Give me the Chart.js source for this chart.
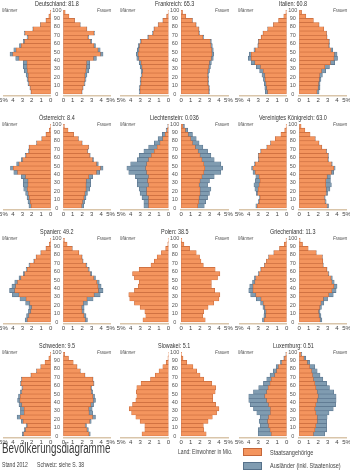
<!DOCTYPE html>
<html>
<head>
<meta charset="utf-8">
<script src="https://cdn.jsdelivr.net/npm/chart.js@4.4.1/dist/chart.umd.min.js"></script>
<style>
  body { margin: 0; width: 350px; height: 471px; position: relative; overflow: hidden; background: #fff;
         font-family: "Liberation Sans", Arial, sans-serif; color: #333; }
  canvas { position: absolute; }
  .lbl { position: absolute; white-space: nowrap; line-height: 1; transform-origin: 0 50%; }
  .title { font-size: 8px; color: #333; }
  .sex { font-size: 6px; font-style: italic; color: #555; }
  .box { position: absolute; width: 19px; height: 8px; box-sizing: border-box; }
</style>
</head>
<body>
<script>
// age groups (start of each 5-year class) and axis ticks
const ageStart = [0, 5, 10, 15, 20, 25, 30, 35, 40, 45, 50, 55, 60, 65, 70, 75, 80, 85, 90, 95];
const ageTicks = [0, 10, 20, 30, 40, 50, 60, 70, 80, 90, 100];
const pctTicks = [0, 1, 2, 3, 4, 5];

const countryNames = ['Deutschland', 'Frankreich', 'Italien', 'Österreich', 'Liechtenstein', 'Vereinigtes Königreich',
                      'Spanien', 'Polen', 'Griechenland', 'Schweden', 'Slowakei', 'Luxemburg'];
const inhabitants = ['81.8', '65.3', '60.8', '8.4', '0.036', '63.0', '49.2', '38.5', '11.3', '9.5', '5.1', '0.51'];

// share of total population in %, per 5-year class (0-4 ... 95-99)
const deMenCit = [2.05,2.13,2.3,2.35,2.35,2.45,2.5,2.5,3.35,4.0,3.65,3.1,2.75,2.38,2.72,1.85,1.07,0.49,0.2,0.05];
const deMenFor = [0.05,0.07,0.1,0.15,0.25,0.35,0.4,0.4,0.35,0.3,0.25,0.2,0.15,0.12,0.08,0.05,0.03,0.01,0,0];
const deWomenCit = [1.95,2.03,2.2,2.27,2.27,2.38,2.43,2.45,3.18,3.92,3.66,3.22,2.86,2.6,3.23,2.46,1.77,1.19,0.6,0.2];
const deWomenFor = [0.05,0.07,0.1,0.13,0.23,0.32,0.37,0.35,0.32,0.28,0.24,0.18,0.14,0.1,0.07,0.04,0.03,0.01,0,0];

const frMenCit = [3.0,3.0,2.9,2.9,2.78,2.72,2.8,2.88,3.13,3.2,3.12,3.05,2.88,2.1,1.62,1.49,1.06,0.58,0.2,0.04];
const frMenFor = [0.1,0.1,0.1,0.1,0.12,0.18,0.2,0.22,0.22,0.2,0.18,0.15,0.12,0.1,0.08,0.06,0.04,0.02,0,0];
const frWomenCit = [2.9,2.9,2.8,2.8,2.78,2.82,2.9,2.98,3.18,3.25,3.22,3.15,3.08,2.3,1.87,1.84,1.56,1.18,0.49,0.15];
const frWomenFor = [0.1,0.1,0.1,0.1,0.12,0.18,0.2,0.22,0.22,0.2,0.18,0.15,0.12,0.1,0.08,0.06,0.04,0.02,0.01,0];

const itMenCit = [2.0,2.1,2.17,2.25,2.3,2.45,2.75,3.35,3.73,3.73,3.3,2.97,2.95,2.67,2.48,1.99,1.39,0.85,0.3,0.08];
const itMenFor = [0.25,0.2,0.18,0.2,0.3,0.4,0.45,0.4,0.32,0.22,0.15,0.08,0.05,0.03,0.02,0.01,0.01,0,0,0];
const itWomenCit = [1.87,2.0,2.03,2.12,2.15,2.35,2.7,3.3,3.67,3.7,3.35,3.1,3.15,2.92,2.88,2.59,2.09,1.5,0.7,0.25];
const itWomenFor = [0.23,0.2,0.17,0.18,0.3,0.45,0.5,0.45,0.38,0.3,0.2,0.1,0.05,0.03,0.02,0.01,0.01,0,0,0];

const atMenCit = [2.05,2.15,2.25,2.35,2.45,2.4,2.4,2.65,3.5,3.95,3.35,2.95,2.6,2.28,2.26,1.47,0.93,0.49,0.15,0.03];
const atMenFor = [0.25,0.25,0.25,0.3,0.4,0.5,0.5,0.45,0.4,0.3,0.25,0.15,0.1,0.07,0.04,0.03,0.02,0.01,0,0];
const atWomenCit = [1.92,2.02,2.17,2.27,2.4,2.4,2.42,2.68,3.5,3.92,3.5,3.07,2.77,2.54,2.66,1.97,1.58,1.09,0.5,0.12];
const atWomenFor = [0.23,0.23,0.23,0.28,0.4,0.5,0.48,0.42,0.35,0.28,0.2,0.13,0.08,0.06,0.04,0.03,0.02,0.01,0,0];

const liMenCit = [2.1,2.1,2.1,2.3,2.3,2.1,2.2,2.1,2.3,2.4,2.3,2.1,1.8,1.5,1.2,0.9,0.6,0.35,0.15,0.05];
const liMenFor = [0.5,0.5,0.7,0.7,0.8,1.2,1.1,1.4,1.9,2.0,1.7,1.2,1.3,1.1,0.9,0.6,0.5,0.3,0.1,0.03];
const liWomenCit = [1.75,1.85,1.9,2.0,2.0,1.9,2.0,2.2,2.4,2.5,2.4,2.2,2.0,1.8,1.5,1.2,1.0,0.75,0.45,0.2];
const liWomenFor = [0.7,0.75,0.9,1.0,1.15,0.9,1.0,1.3,1.8,1.9,1.8,1.3,1.15,1.0,0.8,0.7,0.6,0.45,0.25,0.15];

const ukMenCit = [3.1,2.88,2.8,3.05,3.0,2.9,2.8,2.9,3.3,3.55,3.3,2.93,2.95,2.71,2.07,1.68,1.19,0.6,0.2,0.05];
const ukMenFor = [0.15,0.12,0.1,0.15,0.35,0.55,0.5,0.35,0.25,0.15,0.1,0.07,0.05,0.04,0.03,0.02,0.01,0,0,0];
const ukWomenCit = [2.95,2.73,2.65,2.85,2.85,2.8,2.8,2.95,3.4,3.65,3.4,3.03,3.05,2.86,2.37,2.08,1.69,1.15,0.6,0.2];
const ukWomenFor = [0.15,0.12,0.1,0.15,0.4,0.6,0.5,0.35,0.25,0.15,0.1,0.07,0.05,0.04,0.03,0.02,0.01,0,0,0];

const esMenCit = [2.45,2.3,2.1,2.0,2.2,2.6,3.35,3.8,3.7,3.5,3.15,2.75,2.48,2.2,1.73,1.51,1.03,0.49,0.15,0.03];
const esMenFor = [0.25,0.25,0.25,0.3,0.45,0.65,0.7,0.55,0.4,0.3,0.2,0.15,0.12,0.1,0.07,0.04,0.02,0.01,0,0];
const esWomenCit = [2.31,2.16,1.97,1.92,2.1,2.5,3.25,3.7,3.65,3.53,3.2,2.85,2.63,2.4,2.03,1.96,1.63,0.94,0.4,0.12];
const esWomenFor = [0.24,0.24,0.23,0.28,0.45,0.65,0.65,0.5,0.35,0.27,0.2,0.15,0.12,0.1,0.07,0.04,0.02,0.01,0,0];

const plMenCit = [2.7,2.4,2.5,3.0,3.6,4.1,4.2,3.6,3.2,3.1,3.6,3.8,3.1,1.85,1.5,1.2,0.75,0.3,0.08,0.02];
const plMenFor = [0,0,0,0,0,0,0,0,0,0,0,0,0,0,0,0,0,0,0,0];
const plWomenCit = [2.55,2.3,2.4,2.85,3.45,4.0,4.1,3.55,3.2,3.2,3.85,4.1,3.6,2.35,2.1,1.95,1.6,0.9,0.3,0.08];
const plWomenFor = [0,0,0,0,0,0,0,0,0,0,0,0,0,0,0,0,0,0,0,0];

const grMenCit = [2.35,2.2,2.17,2.3,2.45,2.7,3.25,3.55,3.55,3.35,3.25,2.92,2.7,2.32,2.13,1.89,1.34,0.75,0.25,0.06];
const grMenFor = [0.2,0.2,0.18,0.2,0.3,0.5,0.55,0.45,0.35,0.25,0.15,0.08,0.05,0.03,0.02,0.01,0.01,0,0,0];
const grWomenCit = [2.2,2.1,2.03,2.15,2.3,2.55,3.1,3.45,3.65,3.45,3.35,3.07,2.9,2.52,2.48,2.44,1.79,0.95,0.35,0.1];
const grWomenFor = [0.2,0.2,0.17,0.2,0.3,0.45,0.5,0.45,0.35,0.25,0.15,0.08,0.05,0.03,0.02,0.01,0.01,0,0,0];

const seMenCit = [2.85,2.65,2.45,2.9,3.2,2.8,2.8,3.05,3.25,3.2,3.05,2.95,3.13,3.05,2.07,1.48,1.04,0.6,0.2,0.04];
const seMenFor = [0.15,0.15,0.15,0.2,0.35,0.4,0.4,0.3,0.25,0.2,0.15,0.1,0.07,0.05,0.03,0.02,0.01,0,0,0];
const seWomenCit = [2.7,2.5,2.31,2.77,3.08,2.72,2.67,2.9,3.15,3.1,2.95,2.9,3.18,3.1,2.27,1.78,1.44,1.05,0.55,0.15];
const seWomenFor = [0.15,0.15,0.14,0.18,0.32,0.38,0.38,0.3,0.25,0.2,0.15,0.1,0.07,0.05,0.03,0.02,0.01,0,0,0];

const skMenCit = [2.8,2.5,2.5,3.0,3.45,3.9,4.15,3.8,3.45,3.35,3.4,3.35,2.9,1.9,1.4,1.0,0.6,0.25,0.06,0.01];
const skMenFor = [0,0,0,0,0,0,0,0,0,0,0,0,0,0,0,0,0,0,0,0];
const skWomenCit = [2.65,2.4,2.35,2.85,3.3,3.75,4.0,3.65,3.35,3.35,3.6,3.65,3.25,2.4,2.0,1.65,1.25,0.6,0.2,0.05];
const skWomenFor = [0,0,0,0,0,0,0,0,0,0,0,0,0,0,0,0,0,0,0,0];

const luMenCit = [1.6,1.75,1.9,2.0,1.9,1.7,1.7,1.9,2.1,2.3,2.1,1.95,1.75,1.6,1.25,1.05,0.85,0.5,0.22,0.06];
const luMenFor = [1.4,1.25,0.9,0.9,0.9,1.45,1.8,1.95,1.9,1.7,1.4,1.0,0.7,0.5,0.5,0.35,0.25,0.15,0.08,0.02];
const luWomenCit = [1.5,1.65,1.75,1.9,1.9,1.75,1.65,1.75,1.9,2.0,1.9,1.75,1.65,1.5,1.4,1.3,1.1,0.85,0.5,0.2];
const luWomenFor = [1.2,1.25,1.15,1.0,1.05,1.4,1.95,2.1,2.0,1.9,1.75,1.45,1.25,1.0,0.8,0.6,0.55,0.25,0.2,0.08];

const menData = [[deMenCit, deMenFor], [frMenCit, frMenFor], [itMenCit, itMenFor], [atMenCit, atMenFor],
                 [liMenCit, liMenFor], [ukMenCit, ukMenFor], [esMenCit, esMenFor], [plMenCit, plMenFor],
                 [grMenCit, grMenFor], [seMenCit, seMenFor], [skMenCit, skMenFor], [luMenCit, luMenFor]];
const womenData = [[deWomenCit, deWomenFor], [frWomenCit, frWomenFor], [itWomenCit, itWomenFor], [atWomenCit, atWomenFor],
                   [liWomenCit, liWomenFor], [ukWomenCit, ukWomenFor], [esWomenCit, esWomenFor], [plWomenCit, plWomenFor],
                   [grWomenCit, grWomenFor], [seWomenCit, seWomenFor], [skWomenCit, skWomenFor], [luWomenCit, luWomenFor]];

// layout
const FONT = '"Liberation Sans", Arial, sans-serif';
const colZero = [50.7, 168.5, 286.6];   // x of 0 % on the men side
const rowTop = [10, 124, 238, 352];     // y of age 100
const GAP = 12.6, HALF = 47.3, SPAN = 84, PAD = 8, AXIS_H = 9, Y_MIN = -1.6;
const ORANGE = '#f4955e', ORANGE_LINE = '#c4673a', BLUE = '#809cb1', BLUE_LINE = '#56718a', AXIS = '#d9c5aa';

function points(values) {
    return values.map((v, i) => ({ x: v, y: ageStart[i] + 2.5 }));
}

function datasets(pair) {
    return [
        { data: points(pair[0]), backgroundColor: ORANGE, borderColor: ORANGE_LINE, borderWidth: 0.6, borderSkipped: false, stack: 'p' },
        { data: points(pair[1]), backgroundColor: BLUE, borderColor: BLUE_LINE, borderWidth: 0.6, borderSkipped: false, stack: 'p' }
    ];
}

// text as html; scaleX imitates the condensed atlas typeface
function addLabel(text, cls, left, top, extra, squeeze, centre) {
    const d = document.createElement('div');
    d.className = 'lbl ' + cls;
    d.textContent = text;
    if (extra) Object.assign(d.style, extra);
    document.body.appendChild(d);
    const w = d.offsetWidth * squeeze;
    d.style.transform = 'scaleX(' + squeeze + ')';
    d.style.left = (centre ? left - w / 2 : left) + 'px';
    d.style.top = top + 'px';
    return d;
}

function makeChart(pair, men, zero, y100) {
    const chartTop = y100;
    const chartBottom = y100 + SPAN * (100 - Y_MIN) / 100;
    const ct = Math.floor(chartTop - PAD);
    const ch = Math.ceil(chartBottom + AXIS_H + 2 - ct);
    let cl, cw, padL, padR, axisW = 0;
    if (men) {
        cl = Math.floor(zero - HALF - PAD);
        cw = Math.ceil(zero + GAP - cl);
        padL = zero - HALF - cl;
        padR = 0;
        axisW = cl + cw - zero;
    } else {
        cl = Math.floor(zero - 6);
        cw = Math.ceil(zero + HALF + PAD - cl);
        padL = zero - cl;
        padR = cl + cw - (zero + HALF);
    }
    const canvas = document.createElement('canvas');
    canvas.width = cw;
    canvas.height = ch;
    canvas.style.left = cl + 'px';
    canvas.style.top = ct + 'px';
    document.body.appendChild(canvas);

    new Chart(canvas, {
        type: 'bar',
        data: { datasets: datasets(pair) },
        options: {
            indexAxis: 'y',
            responsive: false,
            animation: false,
            devicePixelRatio: 1,
            barPercentage: 1,
            categoryPercentage: 1,
            layout: { padding: { left: padL, right: padR, top: chartTop - ct, bottom: ct + ch - chartBottom - AXIS_H } },
            plugins: { legend: { display: false }, tooltip: { enabled: false } },
            scales: {
                x: {
                    type: 'linear', min: 0, max: 5, reverse: men, stacked: true,
                    afterBuildTicks: s => { s.ticks = pctTicks.map(v => ({ value: v })); },
                    afterFit: s => { s.height = AXIS_H; },
                    ticks: { font: { family: FONT, size: 6 }, color: '#444', padding: 1.5, maxRotation: 0, autoSkip: false,
                             callback: v => (v === 5 ? '5%' : String(v)) },
                    grid: { display: false, drawTicks: false },
                    border: { display: true, color: AXIS, width: 1.5 }
                },
                y: {
                    type: 'linear', min: Y_MIN, max: 100, offset: false, position: 'right', display: men,
                    afterBuildTicks: s => { s.ticks = ageTicks.map(v => ({ value: v })); },
                    afterFit: s => { s.width = axisW; },
                    ticks: { font: { family: FONT, size: 5.5 }, color: '#555', padding: 1.6, crossAlign: 'center', autoSkip: false },
                    grid: { display: false, drawTicks: false },
                    border: { display: false }
                }
            }
        }
    });
}

countryNames.forEach((name, i) => {
    const col = i % 3, row = Math.floor(i / 3);
    const lz = colZero[col], rz = lz + GAP, y100 = rowTop[row];
    makeChart(menData[i], true, lz, y100);
    makeChart(womenData[i], false, rz, y100);
    addLabel(name + ': ' + inhabitants[i], 'title', (lz + rz) / 2, y100 - 10.5, null, 0.68, true);
    addLabel('Männer', 'sex', lz - HALF - 1, y100 - 3, null, 0.75, false);
    const f = addLabel('Frauen', 'sex', 0, y100 - 3, null, 0.75, false);
    f.style.left = (rz + HALF + 0.5 - f.offsetWidth * 0.75) + 'px';
});

// footer and legend
addLabel('Bevölkerungsdiagramme', '', 1.5, 441, { fontSize: '14px', color: '#3a3a3a' }, 0.7, false);
addLabel('Stand 2012', '', 2, 461.5, { fontSize: '6.5px', color: '#444' }, 0.78, false);
addLabel('Schweiz: siehe S. 38', '', 37, 461.5, { fontSize: '6.5px', color: '#444' }, 0.78, false);
addLabel('Land: Einwohner in Mio.', '', 178, 448.5, { fontSize: '6.5px', color: '#444' }, 0.78, false);
const b1 = document.createElement('div');
b1.className = 'box';
Object.assign(b1.style, { left: '243px', top: '448px', background: ORANGE, border: '0.8px solid ' + ORANGE_LINE });
document.body.appendChild(b1);
const b2 = document.createElement('div');
b2.className = 'box';
Object.assign(b2.style, { left: '243px', top: '461.5px', background: BLUE, border: '0.8px solid ' + BLUE_LINE });
document.body.appendChild(b2);
addLabel('Staatsangehörige', '', 270, 449.5, { fontSize: '6.5px', color: '#444' }, 0.85, false);
addLabel('Ausländer (inkl. Staatenlose)', '', 270, 463, { fontSize: '6.5px', color: '#444' }, 0.85, false);
</script>
</body>
</html>
